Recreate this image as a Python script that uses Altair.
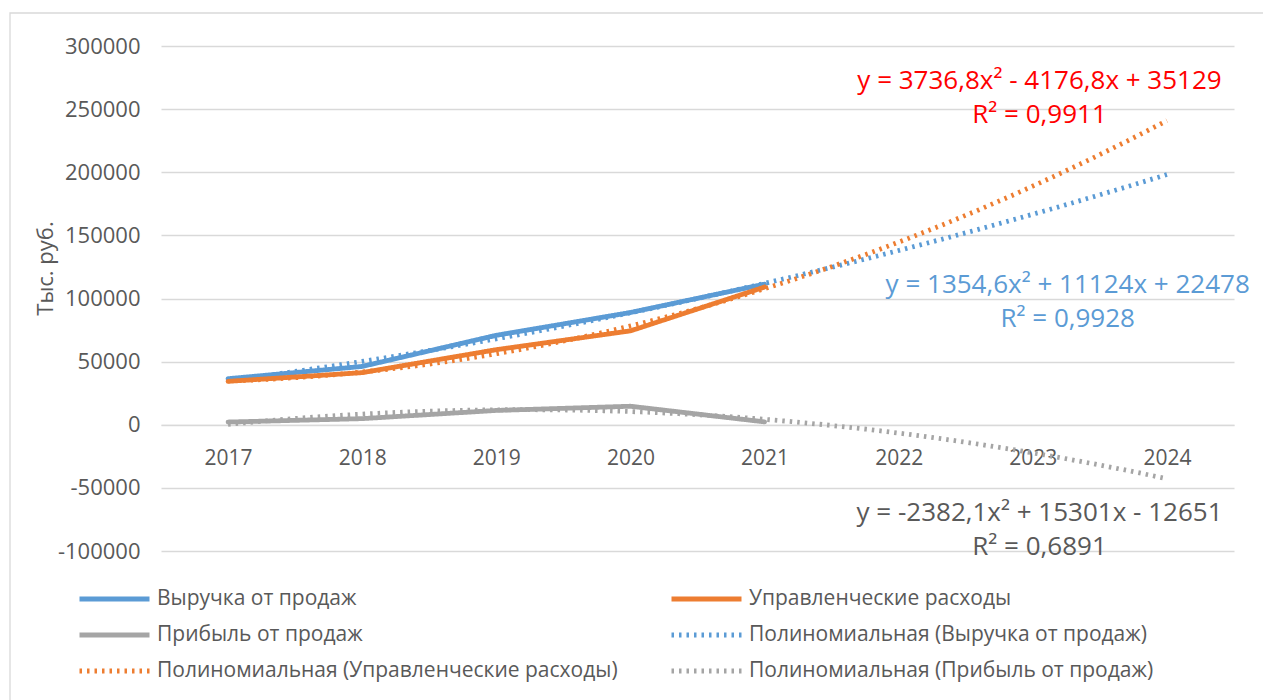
import altair as alt
import pandas as pd

# ---- data ----
years = [2017, 2018, 2019, 2020, 2021]
revenue = [36470, 46190, 70830, 88890, 111380]
costs = [34380, 41280, 59450, 74370, 109050]
profit = [2140, 4840, 11340, 14660, 2270]

series_names = ["Выручка от продаж", "Управленческие расходы", "Прибыль от продаж"]
trend_names = [
    "Полиномиальная (Выручка от продаж)",
    "Полиномиальная (Управленческие расходы)",
    "Полиномиальная (Прибыль от продаж)",
]
# legend fills column by column: col 1 then col 2
legend_order = [series_names[0], series_names[2], trend_names[1],
                series_names[1], trend_names[0], trend_names[2]]
legend_colors = ["#5B9BD5", "#A5A5A5", "#ED7D31", "#ED7D31", "#5B9BD5", "#A5A5A5"]
legend_dash = [[1, 0], [1, 0], [2.5, 5], [1, 0], [2.5, 5], [2.5, 5]]
legend_width = [4.8, 4.8, 3, 4.8, 3, 3]

axis_years = [2017, 2018, 2019, 2020, 2021, 2022, 2023, 2024]
y_ticks = [-100000, -50000, 0, 50000, 100000, 150000, 200000, 250000, 300000]

eq_texts = [
    "y = 3736,8x² - 4176,8x + 35129\nR² = 0,9911",
    "y = 1354,6x² + 11124x + 22478\nR² = 0,9928",
    "y = -2382,1x² + 15301x - 12651\nR² = 0,6891",
]
eq_x = [2023.05, 2023.26, 2023.05]
eq_y = [272300, 111000, -69600]
eq_colors = ["#FF0000", "#5B9BD5", "#595959"]

FONT = "Open Sans"
TXT = "#595959"

rows = []
for name, vals in zip(series_names, [revenue, costs, profit]):
    for yr, v in zip(years, vals):
        rows.append({"year": yr, "value": v, "series": name})
df = pd.DataFrame(rows)

eq_df = pd.DataFrame({"text": eq_texts, "x": eq_x, "y": eq_y, "c": eq_colors})

W, H = 1073, 505
xscale = alt.Scale(domain=[2016.5, 2024.5], nice=False, zero=False)
yscale = alt.Scale(domain=[-100000, 300000], nice=False)

color_scale = alt.Scale(domain=legend_order, range=legend_colors)
dash_scale = alt.Scale(domain=legend_order, range=legend_dash)
width_scale = alt.Scale(domain=legend_order, range=legend_width)

legend = alt.Legend(
    title=None, orient="none", legendX=-84, legendY=535, columns=2,
    symbolType="stroke", symbolSize=4900, labelFont=FONT, labelFontSize=21,
    labelColor=TXT, labelLimit=800, labelOffset=5, rowPadding=0, clipHeight=36,
    columnPadding=51, padding=0, gridAlign="each",
)

x_enc = alt.X("year:Q", scale=xscale, title=None,
              axis=alt.Axis(values=axis_years, format="d", grid=False, ticks=False,
                            domain=True, domainColor="#D9D9D9", domainWidth=1,
                            offset=-126.25, labelPadding=23, labelFont=FONT,
                            labelFontSize=21, labelColor=TXT, labelFlush=False))
y_enc = alt.Y("value:Q", scale=yscale, title="Тыс. руб.",
              axis=alt.Axis(values=y_ticks, labelExpr="'' + datum.value", grid=True,
                            gridColor="#D9D9D9", gridWidth=1.3, ticks=False,
                            domain=False, labelPadding=21,
                            labelFont=FONT, labelFontSize=22, labelColor=TXT,
                            titleFont=FONT, titleFontSize=22, titleColor=TXT,
                            titleFontWeight="normal", titleX=-116, titleY=222,
                            titleAlign="center", titleBaseline="middle", titleAngle=270))

frame = alt.Chart(pd.DataFrame({"a": [0]})).mark_rect(
    fillOpacity=0, stroke="#D9D9D9", strokeWidth=1.3
).encode(x=alt.value(-151), x2=alt.value(1300), y=alt.value(-33), y2=alt.value(800))

trend = alt.Chart(df).transform_regression(
    "year", "value", groupby=["series"], method="poly", order=2, extent=[2017, 2024]
).transform_calculate(
    leg="'Полиномиальная (' + datum.series + ')'"
).mark_line(strokeCap="butt", strokeJoin="round").encode(
    x=x_enc, y=y_enc,
    color=alt.Color("leg:N", scale=color_scale, legend=legend),
    strokeDash=alt.StrokeDash("leg:N", scale=dash_scale, legend=legend),
    strokeWidth=alt.StrokeWidth("leg:N", scale=width_scale, legend=legend),
    detail="leg:N",
)

lines = alt.Chart(df).transform_calculate(leg="datum.series").mark_line(
    strokeCap="round", strokeJoin="round"
).encode(
    x=x_enc, y=y_enc,
    color=alt.Color("leg:N", scale=color_scale, legend=legend),
    strokeDash=alt.StrokeDash("leg:N", scale=dash_scale, legend=legend),
    strokeWidth=alt.StrokeWidth("leg:N", scale=width_scale, legend=legend),
    order="year:Q",
)

eqs = alt.Chart(eq_df).mark_text(
    font=FONT, fontSize=26, lineBreak="\n", lineHeight=34, align="center",
    baseline="middle"
).encode(
    x=alt.X("x:Q", scale=xscale),
    y=alt.Y("y:Q", scale=yscale),
    text="text:N",
    color=alt.Color("c:N", scale=None),
)

chart = alt.layer(frame, trend, lines, eqs).properties(
    width=W, height=H,
    padding={"left": 161, "top": 46, "right": 29, "bottom": 149},
    autosize=alt.AutoSizeParams(type="none"),
    background="white",
).configure_view(stroke=None)

chart.save("out.html", embed_options={"renderer": "svg", "actions": False})
